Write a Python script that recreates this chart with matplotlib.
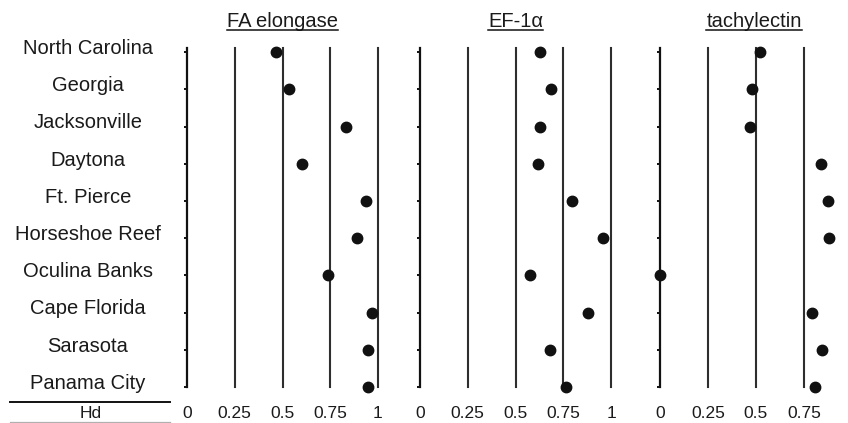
import matplotlib
matplotlib.use("Agg")
from matplotlib import pyplot as plt
from matplotlib.lines import Line2D
from matplotlib import transforms

plt.rcParams['font.family'] = ['Liberation Sans', 'DejaVu Sans']

# data
sites = ["North Carolina", "Georgia", "Jacksonville", "Daytona", "Ft. Pierce",
         "Horseshoe Reef", "Oculina Banks", "Cape Florida", "Sarasota", "Panama City"]
genes = ["FA elongase", "EF-1\u03b1", "tachylectin"]
hd_fa = [0.466, 0.532, 0.831, 0.600, 0.936, 0.888, 0.740, 0.970, 0.946, 0.949]
hd_ef = [0.630, 0.688, 0.627, 0.616, 0.794, 0.958, 0.576, 0.881, 0.681, 0.766]
hd_tachy = [0.519, 0.482, 0.471, 0.837, 0.876, 0.879, 0.0, 0.792, 0.842, 0.808]
grid_vals = [0.25, 0.5, 0.75, 1.0]
tick_vals = [0, 0.25, 0.5, 0.75, 1]
tick_labels = ["0", "0.25", "0.5", "0.75", "1"]

W, H = 848, 423
fig = plt.figure(figsize=(W / 100, H / 100), dpi=100)

ax_bottom = 1 - 387 / H
ax_height = (387 - 48) / H
panels = [(187, 191, 1.0, hd_fa), (420, 191, 1.0, hd_ef), (660, 188, 0.98, hd_tachy)]
rows = list(range(len(sites)))
txtcol = '#1a1a1a'

axes = []
for i, (left, width, xmax, vals) in enumerate(panels):
    ax = fig.add_axes([left / W, ax_bottom, width / W, ax_height])
    ax.set_xlim(0, xmax)
    ax.set_ylim(9, -0.11)
    for s in ['top', 'right', 'bottom']:
        ax.spines[s].set_visible(False)
    ax.spines['left'].set_linewidth(1.6)
    ax.spines['left'].set_color('#111111')
    ax.set_yticks(rows)
    ax.set_yticklabels([])
    ax.tick_params(axis='y', direction='out', length=2.5, width=1.4, color='#111111')
    ax.set_xticks([])
    for g in grid_vals:
        if g <= xmax:
            ax.axvline(g, color='#2e2e2e', lw=1.5, zorder=1, clip_on=False)
    ax.plot(vals, rows, 'o', color='#111111', markersize=7.5, zorder=3, clip_on=False)
    # bottom value labels
    for v, lab in zip(tick_vals, tick_labels):
        if v <= xmax:
            ax.text(v, -0.0914, lab, transform=ax.get_xaxis_transform(),
                    ha='center', va='baseline', fontsize=12.5, color=txtcol)
    # thin grey rule under the labels
    ax.add_line(Line2D([-0.02, 1.0], [-0.1328, -0.1328], transform=ax.transAxes,
                       color='#b0b0b0', lw=0.9, clip_on=False))
    t = ax.text(0.5, 1.062, genes[i], transform=ax.transAxes, ha='center',
                va='baseline', fontsize=14.5, color=txtcol)
    axes.append((ax, t))

# site names on the left
ax0 = axes[0][0]
trans = transforms.blended_transform_factory(fig.transFigure, ax0.transData)
for r, name in zip(rows, sites):
    ax0.text(88 / W, r + 0.05, name, transform=trans, ha='center', va='baseline',
             fontsize=14.5, color=txtcol, clip_on=False)

# Hd label with rules
fig.text(91 / W, 1 - 418 / H, "Hd", ha='center', va='baseline', fontsize=12.5, color=txtcol)
fig.add_artist(Line2D([10 / W, 170 / W], [1 - 402 / H, 1 - 402 / H],
                      transform=fig.transFigure, color='#111111', lw=1.4))
fig.add_artist(Line2D([10 / W, 170 / W], [1 - 422 / H, 1 - 422 / H],
                      transform=fig.transFigure, color='#b0b0b0', lw=0.9))

# underline the gene titles
fig.canvas.draw()
renderer = fig.canvas.get_renderer()
for ax, t in axes:
    bb = t.get_window_extent(renderer)
    y = 1 - 30 / H
    fig.add_artist(Line2D([bb.x0 / W, bb.x1 / W], [y, y], transform=fig.transFigure,
                          color='#111111', lw=1.1))

fig.savefig("out.png", dpi=100)
